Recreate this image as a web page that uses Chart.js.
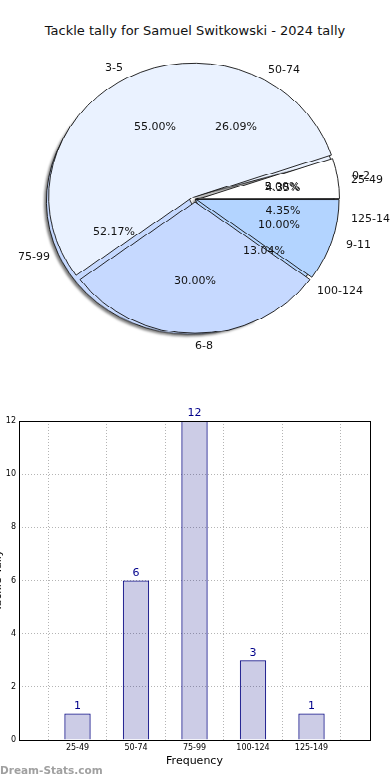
<!DOCTYPE html>
<html>
<head>
<meta charset="utf-8">
<script src="https://cdn.jsdelivr.net/npm/chart.js@4.4.1/dist/chart.umd.min.js"></script>
<style>
body{margin:0;background:#fff;width:390px;height:780px;overflow:hidden;position:relative;font-family:"DejaVu Sans",sans-serif}
#title{position:absolute;top:23px;left:0;width:390px;text-align:center;font-size:13px;color:#111}
#pieWrap{position:absolute;left:0;top:47px;width:390px;height:330px;transform:scaleY(0.9236);transform-origin:0 0}
#pieWrap canvas{position:absolute;left:0;top:0}
#pieUnder{filter:drop-shadow(-2px 2px 1px rgba(0,0,0,0.5))}
#pieText{position:absolute;left:0;top:47px}
#barWrap{position:absolute;left:0;top:400px;width:390px;height:380px}
#mark{position:absolute;left:0;top:764px;font-size:10.5px;color:#a0a0a0;font-weight:bold}
</style>
</head>
<body>
<div id="title">Tackle tally for Samuel Switkowski - 2024 tally</div>
<div id="pieWrap">
  <canvas id="pieUnder" width="390" height="330"></canvas>
  <canvas id="pieTop" width="390" height="330"></canvas>
</div>
<canvas id="pieText" width="390" height="305"></canvas>
<div id="barWrap"><canvas id="bars" width="390" height="380"></canvas></div>
<div id="mark">Dream-Stats.com</div>
<script>
// tackles per game buckets (top pie)
const gameLabels = ['0-2', '3-5', '6-8', '9-11'];
const gameCounts = [1, 11, 6, 2];
const gameColors = ['#ffffff', '#eaf2ff', '#c6d9ff', '#b3d4ff'];

// season tally buckets (pie underneath + bar chart)
const tallyLabels = ['25-49', '50-74', '75-99', '100-124', '125-149'];
const tallyCounts = [1, 6, 12, 3, 1];
const tallyColors = ['#ffffff', '#eaf2ff', '#c6d9ff', '#b3d4ff', '#9fc4f5'];

const yTicks = [0, 2, 4, 6, 8, 10, 12];

const SY = 133 / 144; // the pie is squashed a little, like the original

// matplotlib starts at 3 o'clock going counter clockwise, chart.js goes clockwise
// so the slices go in reversed and the rotation starts at 90
function rev(arr){ return arr.slice().reverse(); }

function putText(ctx, txt, x, y, align){
    ctx.textAlign = align;
    ctx.textBaseline = 'middle';
    ctx.fillText(txt, Math.round(x), Math.round(y * SY));
}

// texts sit where matplotlib puts them: 1.1 r for the label, 0.6 r for the percent,
// measured from the wedge centre pushed out by the explode distance
function pieText(chart, ctx, explode){
    let meta = chart.getDatasetMeta(0);
    let values = chart.data.datasets[0].data;
    let labels = chart.data.labels;
    let total = values.reduce((a, b) => a + b, 0);
    for(let i = 0; i < meta.data.length; i++){
        let arc = meta.data[i];
        let mid = (arc.startAngle + arc.endAngle) / 2;
        let cx = arc.x + Math.cos(mid) * explode;
        let cy = arc.y + Math.sin(mid) * explode;
        let r = arc.outerRadius;
        let lx = cx + Math.cos(mid) * r * 1.1;
        let ly = cy + Math.sin(mid) * r * 1.1;
        putText(ctx, labels[i], lx, ly, Math.cos(mid) > -1e-6 ? 'left' : 'right');
        let pct = (values[i] / total * 100).toFixed(2) + '%';
        putText(ctx, pct, cx + Math.cos(mid) * r * 0.6, cy + Math.sin(mid) * r * 0.6, 'center');
    }
}

// chart.js moves an exploded arc by offset/4 and it also grows by offset/4,
// so the radius is trimmed to match
function pieConfig(labels, values, colors, offsets, radius){
    return {
        type: 'pie',
        data: {
            labels: rev(labels),
            datasets: [{
                data: rev(values),
                backgroundColor: rev(colors),
                borderColor: '#111',
                borderWidth: 0.9,
                offset: rev(offsets)
            }]
        },
        options: {
            responsive: false,
            animation: false,
            rotation: 90,
            radius: radius,
            plugins: {legend: {display: false}, tooltip: {enabled: false}}
        }
    };
}

let underChart = new Chart(document.getElementById('pieUnder'),
    pieConfig(tallyLabels, tallyCounts, tallyColors, [0, 20, 20, 0, 0], 139));

let topChart = new Chart(document.getElementById('pieTop'),
    pieConfig(gameLabels, gameCounts, gameColors, [6, 12, 12, 6], 142));

// all the pie texts go on their own canvas so nothing hides them
let tctx = document.getElementById('pieText').getContext('2d');
tctx.font = '11px "DejaVu Sans"';
tctx.fillStyle = '#111';
pieText(underChart, tctx, 5);
pieText(topChart, tctx, 3);

// bar chart bits
const frameAndValues = {
    id: 'frameAndValues',
    afterDatasetsDraw(chart){
        let ctx = chart.ctx;
        let a = chart.chartArea;
        ctx.save();
        ctx.strokeStyle = '#000';
        ctx.lineWidth = 1;
        ctx.strokeRect(Math.round(a.left) + 0.5, Math.round(a.top) + 0.5,
            Math.round(a.right - a.left), Math.round(a.bottom - a.top));
        ctx.font = '11px "DejaVu Sans"';
        ctx.fillStyle = '#00008b';
        ctx.textAlign = 'center';
        ctx.textBaseline = 'bottom';
        let meta = chart.getDatasetMeta(0);
        meta.data.forEach((bar, i) => {
            ctx.fillText(String(tallyCounts[i]), bar.x, bar.y - 2);
        });
        ctx.restore();
    }
};

new Chart(document.getElementById('bars'), {
    type: 'bar',
    data: {
        datasets: [{
            data: tallyCounts.map((v, i) => ({x: i, y: v})),
            backgroundColor: 'rgba(0,0,128,0.2)',
            borderColor: '#000080',
            borderWidth: 1,
            barPercentage: 0.45,
            categoryPercentage: 1
        }]
    },
    options: {
        responsive: false,
        animation: false,
        layout: {padding: {top: 21, right: 20, left: 0, bottom: 12}},
        plugins: {legend: {display: false}, tooltip: {enabled: false}},
        scales: {
            x: {
                type: 'linear',
                min: -1,
                max: 5,
                offset: false,
                ticks: {
                    stepSize: 1,
                    autoSkip: false,
                    color: '#000',
                    padding: 3,
                    font: {family: 'DejaVu Sans', size: 8},
                    callback: v => tallyLabels[v] || ''
                },
                grid: {color: '#b4b4b4', lineWidth: 1, drawTicks: false},
                border: {display: false, dash: [1, 2]},
                title: {display: true, text: 'Frequency', color: '#000',
                    font: {family: 'DejaVu Sans', size: 11}, padding: {top: 3, bottom: 0}},
                afterFit: s => { s.height = 28; }
            },
            y: {
                min: 0,
                max: 12,
                afterBuildTicks: s => { s.ticks = yTicks.map(v => ({value: v})); },
                ticks: {
                    color: '#000',
                    padding: 3,
                    font: {family: 'DejaVu Sans', size: 8}
                },
                grid: {color: '#b4b4b4', lineWidth: 1, drawTicks: false},
                border: {display: false, dash: [1, 2]},
                title: {display: true, text: 'Tackle Tally', color: '#000',
                    font: {family: 'DejaVu Sans', size: 11}, padding: {top: -8, bottom: 0}},
                afterFit: s => { s.width = 19; }
            }
        }
    },
    plugins: [frameAndValues]
});
</script>
</body>
</html>
